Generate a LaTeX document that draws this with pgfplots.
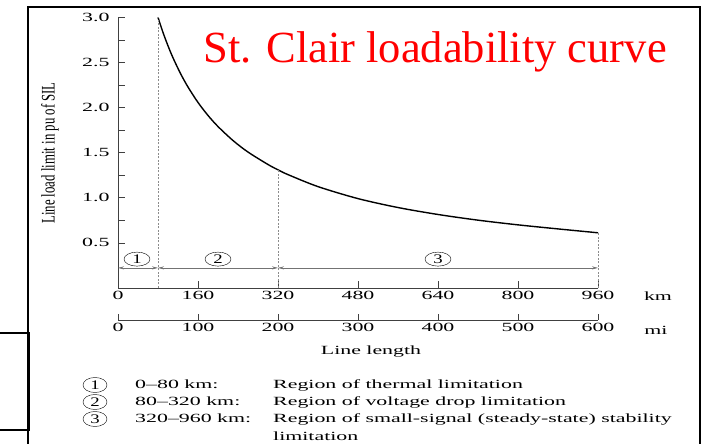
\documentclass[border=0pt]{standalone}
\usepackage{fontspec}
\setmainfont{Liberation Serif}
\usepackage{graphicx}
\usepackage{pgfplots}
\pgfplotsset{compat=1.18}
\usetikzlibrary{shapes.geometric,arrows.meta}
% the scanned figure is squashed vertically, so its text is set wide
\newcommand{\wide}[1]{\scalebox{1.75}[1]{#1}}
\newcommand{\circnum}[1]{\scalebox{1.5}[1.05]{#1}}

\begin{document}
\begin{tikzpicture}[x=1pt,y=1pt,font=\fontsize{12.5}{15}\selectfont]
\path[use as bounding box] (0,0) rectangle (705,444);
% frames
\draw[line width=2pt] (28,-20) -- (28,437) -- (700,437) -- (700,-20);
\draw[line width=1.8pt] (-5,111) -- (29,111) -- (29,14) -- (-5,14);

\begin{axis}[
    at={(118pt,156pt)}, anchor=south west,
    scale only axis, width=480pt, height=270.6pt,
    xmin=0, xmax=960, ymin=0, ymax=3,
    axis x line=bottom, axis y line=left,
    axis line style={-, line width=0.6pt, black!75},
    tick style={line width=0.6pt, black!75},
    tick align=inside,
    major tick length=7pt, minor tick length=7pt,
    xtick={0,160,...,960},
    xticklabels={\wide{0},\wide{160},\wide{320},\wide{480},\wide{640},\wide{800},\wide{960}},
    ytick={0.5,1,1.5,2,2.5,3},
    yticklabels={\wide{0.5},\wide{1.0},\wide{1.5},\wide{2.0},\wide{2.5},\wide{3.0}},
    minor ytick={0.75,1.25,1.75,2.25,2.75},
    yticklabel style={xshift=-5pt},
    clip=false,
]
% loadability curve
\addplot[black, line width=1.4pt, smooth] coordinates {
    (80,3.000) (90,2.833) (100,2.685) (110,2.552) (125,2.378) (140,2.228)
    (160,2.057) (180,1.913) (200,1.790) (230,1.635) (260,1.507) (300,1.369)
    (320,1.310) (340,1.257) (400,1.124) (480,0.991) (560,0.892) (640,0.815)
    (720,0.752) (800,0.700) (880,0.655) (960,0.612)
};
% region boundaries
\addplot[black!45, line width=0.5pt, dash pattern=on 2pt off 1.5pt] coordinates {(80,0) (80,3)};
\addplot[black!45, line width=0.5pt, dash pattern=on 2pt off 1.5pt] coordinates {(320,0) (320,1.31)};
\addplot[black!45, line width=0.5pt, dash pattern=on 2pt off 1.5pt] coordinates {(960,0) (960,0.612)};
% region arrows
\draw[{Stealth[length=6pt,width=3pt]}-{Stealth[length=6pt,width=3pt]}, black!55, line width=0.5pt]
    (axis cs:0,0.223) -- (axis cs:80,0.223);
\draw[{Stealth[length=6pt,width=3pt]}-{Stealth[length=6pt,width=3pt]}, black!55, line width=0.5pt]
    (axis cs:80,0.223) -- (axis cs:320,0.223);
\draw[{Stealth[length=6pt,width=3pt]}-{Stealth[length=6pt,width=3pt]}, black!55, line width=0.5pt]
    (axis cs:320,0.223) -- (axis cs:960,0.223);
\node[draw, ellipse, inner sep=0pt, minimum width=26pt, minimum height=14pt] at (axis cs:38,0.32) {\circnum{1}};
\node[draw, ellipse, inner sep=0pt, minimum width=26pt, minimum height=14pt] at (axis cs:200,0.32) {\circnum{2}};
\node[draw, ellipse, inner sep=0pt, minimum width=26pt, minimum height=14pt] at (axis cs:640,0.32) {\circnum{3}};
\end{axis}

% mile scale
\begin{axis}[
    at={(118pt,124pt)}, anchor=south west,
    scale only axis, width=480pt, height=10pt,
    xmin=0, xmax=600, ymin=0, ymax=1,
    axis x line=bottom, axis y line=none,
    axis line style={-, line width=0.6pt, black!75},
    tick style={line width=0.6pt, black!75},
    tick align=inside, major tick length=6pt,
    xtick={0,100,...,600},
    xticklabels={\wide{0},\wide{100},\wide{200},\wide{300},\wide{400},\wide{500},\wide{600}},
]
\addplot[draw=none] coordinates {(0,0) (600,1)};
\end{axis}

\node at (658,148) {\wide{km}};
\node at (656,114) {\wide{mi}};
\node at (371,92) {\wide{Line length}};
\node[rotate=90, font=\fontsize{12.8}{15}\selectfont] at (50,291) {\scalebox{1}[1.5]{Line load limit in pu of SIL}};

\node[red, font=\fontsize{44.5}{52}\selectfont, anchor=base] at (435,381) {St. Clair loadability curve};

% legend
\foreach \n/\yy in {1/55, 2/38, 3/21} {
  \node[draw, ellipse, inner sep=0pt, minimum width=24pt, minimum height=15pt] at (95,\yy+4) {\circnum{\n}};
}
\node[anchor=base west, inner sep=0pt] at (135,55) {\wide{0--80 km:}};
\node[anchor=base west, inner sep=0pt] at (135,38) {\wide{80--320 km:}};
\node[anchor=base west, inner sep=0pt] at (135,21) {\wide{320--960 km:}};
\node[anchor=base west, inner sep=0pt] at (273,55) {\wide{Region of thermal limitation}};
\node[anchor=base west, inner sep=0pt] at (273,38) {\wide{Region of voltage drop limitation}};
\node[anchor=base west, inner sep=0pt] at (273,21) {\wide{Region of small-signal (steady-state) stability}};
\node[anchor=base west, inner sep=0pt] at (273,3) {\wide{limitation}};
\end{tikzpicture}
\end{document}
